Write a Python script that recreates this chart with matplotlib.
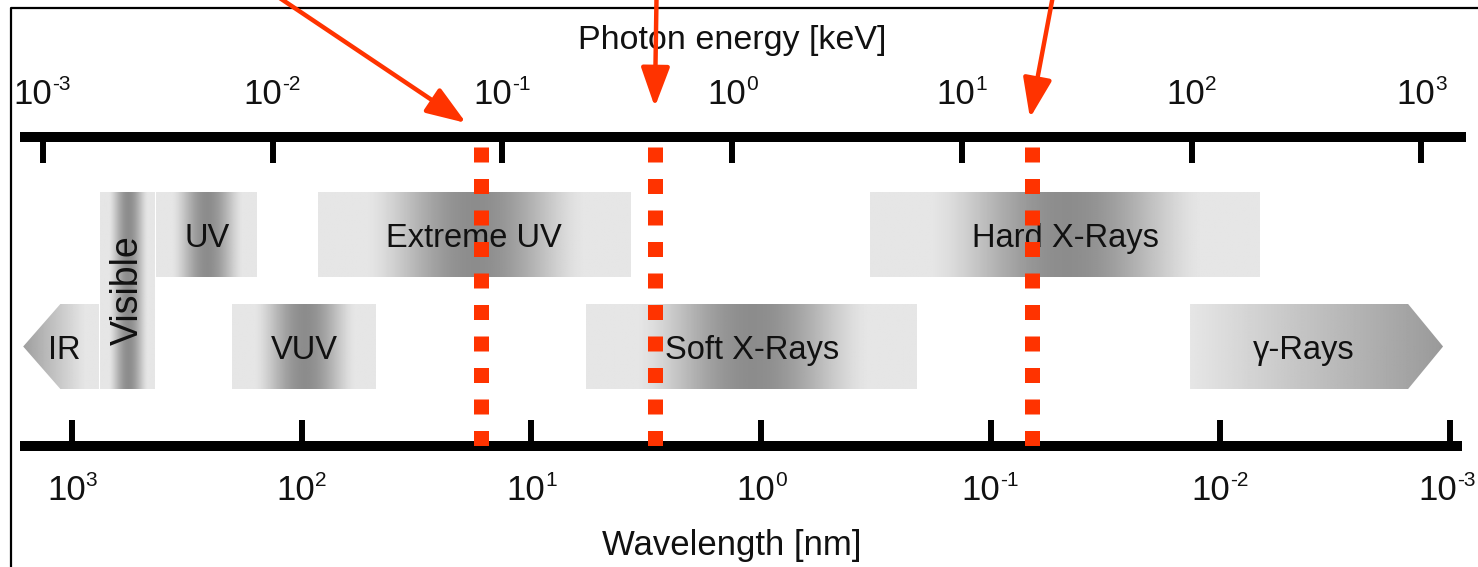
import numpy as np
import matplotlib
matplotlib.use('Agg')
from matplotlib import pyplot as plt
from matplotlib.patches import Polygon

plt.rcParams['font.family'] = ['Liberation Sans', 'DejaVu Sans']

# energy decades (keV) on the top scale, wavelength decades (nm) on the bottom scale
energy_exp = [-3, -2, -1, 0, 1, 2, 3]
wave_exp = [3, 2, 1, 0, -1, -2, -3]
wave_to_energy = 1.337  # keV*nm, as drawn on the chart

# bands: name, start keV, end keV, row (0 = upper, 1 = lower, 2 = both)
band_names = ['Visible', 'UV', 'Extreme UV', 'Hard X-Rays', 'VUV', 'Soft X-Rays']
band_start = [1.77e-3, 3.1e-3, 0.0157, 4.0, 6.65e-3, 0.231]
band_end = [3.1e-3, 8.6e-3, 0.363, 201.0, 0.0284, 6.44]
band_row = [2, 0, 0, 0, 1, 1]

# arrow shaped bands: tip, shoulder, flat end (keV)
ir_pts = [8.2e-4, 1.19e-3, 1.77e-3]
gamma_pts = [98.4, 877.0, 1245.0]

# marked energies (keV) and arrows pointing at them
marks = [0.0807, 0.461, 20.2]
arrow_tip = [0.0695, 0.461, 19.8]
arrow_tail = [0.0082, 0.47, 25.7]
arrow_tip_y = [123, 107, 118]

red = '#ff3300'
ink = '#111111'
light, dark = 0.90, 0.55

fig = plt.figure(figsize=(14.78, 5.67), dpi=100)
ax = fig.add_axes([0, 0, 1, 1])
ax.set_xscale('log')
ax.set_xlim(10 ** (-3 - 43 / 229.7), 10 ** (-3 + 1435 / 229.7))
ax.set_ylim(567, 0)
ax.axis('off')

rows = {0: (192, 277), 1: (304, 389), 2: (192, 389)}


def gradient(e0, e1, y0, y1, prof, clip=None):
    n = 600
    ec = np.linspace(e0, e1, n)
    t = (np.log10(ec) - np.log10(e0)) / (np.log10(e1) - np.log10(e0))
    g = prof(t)
    im = ax.imshow(g[None, :], cmap='gray', vmin=0, vmax=1, aspect='auto',
                   extent=(e0, e1, y1, y0), interpolation='bilinear', zorder=1)
    if clip is not None:
        im.set_clip_path(clip)


def bump(t):
    u = np.clip((t - 0.15) / 0.7, 0, 1)
    return light - (light - dark) * np.sin(np.pi * u) ** 1.5


def power_label(x, y, exp, shift=0):
    sup = str(exp)
    sw = 8.5 * len(sup)
    base_w = 36
    right = -(base_w + sw) / 2 + base_w + shift
    ax.annotate('10', xy=(x, y), xytext=(right, 0), textcoords='offset pixels',
                ha='right', va='center', fontsize=25, color=ink, annotation_clip=False)
    ax.annotate(sup, xy=(x, y), xytext=(right, 10), textcoords='offset pixels',
                ha='left', va='center', fontsize=15, color=ink, annotation_clip=False)


for name, e0, e1, r in zip(band_names, band_start, band_end, band_row):
    y0, y1 = rows[r]
    gradient(e0, e1, y0, y1, bump)
    xc = np.sqrt(e0 * e1)
    if name == 'Visible':
        ax.text(xc, (y0 + y1) / 2, name, rotation=90, ha='center', va='center',
                fontsize=27, color=ink, zorder=3)
    else:
        ax.text(xc, (y0 + y1) / 2 + 4, name, ha='center', va='center',
                fontsize=23.5, color=ink, zorder=3)

# IR arrow (points left)
y0, y1 = rows[1]
ym = (y0 + y1) / 2
ir_poly = Polygon([(ir_pts[0], ym), (ir_pts[1], y0), (ir_pts[2], y0),
                   (ir_pts[2], y1), (ir_pts[1], y1)], closed=True,
                  facecolor='none', edgecolor='none')
ax.add_patch(ir_poly)
gradient(ir_pts[0], ir_pts[2], y0, y1,
         lambda t: 0.62 + (light - 0.62) * np.clip(t / 0.8, 0, 1), clip=ir_poly)
ax.text(np.sqrt(ir_pts[0] * ir_pts[2]) * 1.03, ym + 4, 'IR', ha='center', va='center',
        fontsize=23.5, color=ink, zorder=3)

# gamma arrow (points right)
g_poly = Polygon([(gamma_pts[0], y0), (gamma_pts[1], y0), (gamma_pts[2], ym),
                  (gamma_pts[1], y1), (gamma_pts[0], y1)], closed=True,
                 facecolor='none', edgecolor='none')
ax.add_patch(g_poly)
gradient(gamma_pts[0], gamma_pts[2], y0, y1, lambda t: light - (light - 0.60) * t, clip=g_poly)
ax.text(np.sqrt(gamma_pts[0] * gamma_pts[1]) * 1.05, ym + 4, 'γ-Rays', ha='center', va='center',
        fontsize=23.5, color=ink, zorder=3)

# scale bars
ax.hlines(137, 10 ** -3.1, 10 ** 3.195, color='black', lw=7.2, zorder=2)
ax.hlines(446, 10 ** -3.1, 10 ** 3.178, color='black', lw=7.2, zorder=2)
for k in energy_exp:
    ax.vlines(10.0 ** k, 137, 163, color='black', lw=4.3, zorder=2)
    power_label(10.0 ** k, 94, k)
for k in wave_exp:
    e = wave_to_energy / 10.0 ** k
    ax.vlines(e, 420, 446, color='black', lw=4.3, zorder=2)
    power_label(e, 491, k, shift=-3 if k == -3 else 0)

ax.text(10 ** 0.0, 40, 'Photon energy [keV]', ha='center', va='center',
        fontsize=24.5, color=ink)
ax.text(10 ** 0.0, 545, 'Wavelength [nm]', ha='center', va='center',
        fontsize=25, color=ink)

# marked energies
for e in marks:
    ax.plot([e, e], [147, 449], color=red, lw=10.8, dashes=(1.0, 1.1),
            solid_capstyle='butt', dash_capstyle='butt', zorder=4)

for tip, tail, ty in zip(arrow_tip, arrow_tail, arrow_tip_y):
    ax.annotate('', xy=(tip, ty), xytext=(tail, -20), annotation_clip=False,
                arrowprops=dict(arrowstyle='-|>,head_length=1.1,head_width=0.4',
                                mutation_scale=22, lw=3.2, color=red,
                                shrinkA=0, shrinkB=0), zorder=5)

# frame
ax.plot([11 / 1478, 11 / 1478, 1.0], [0.0, 1 - 8 / 567, 1 - 8 / 567],
        transform=ax.transAxes, color='black', lw=1.6, clip_on=False)

fig.savefig('out.png', dpi=100)
